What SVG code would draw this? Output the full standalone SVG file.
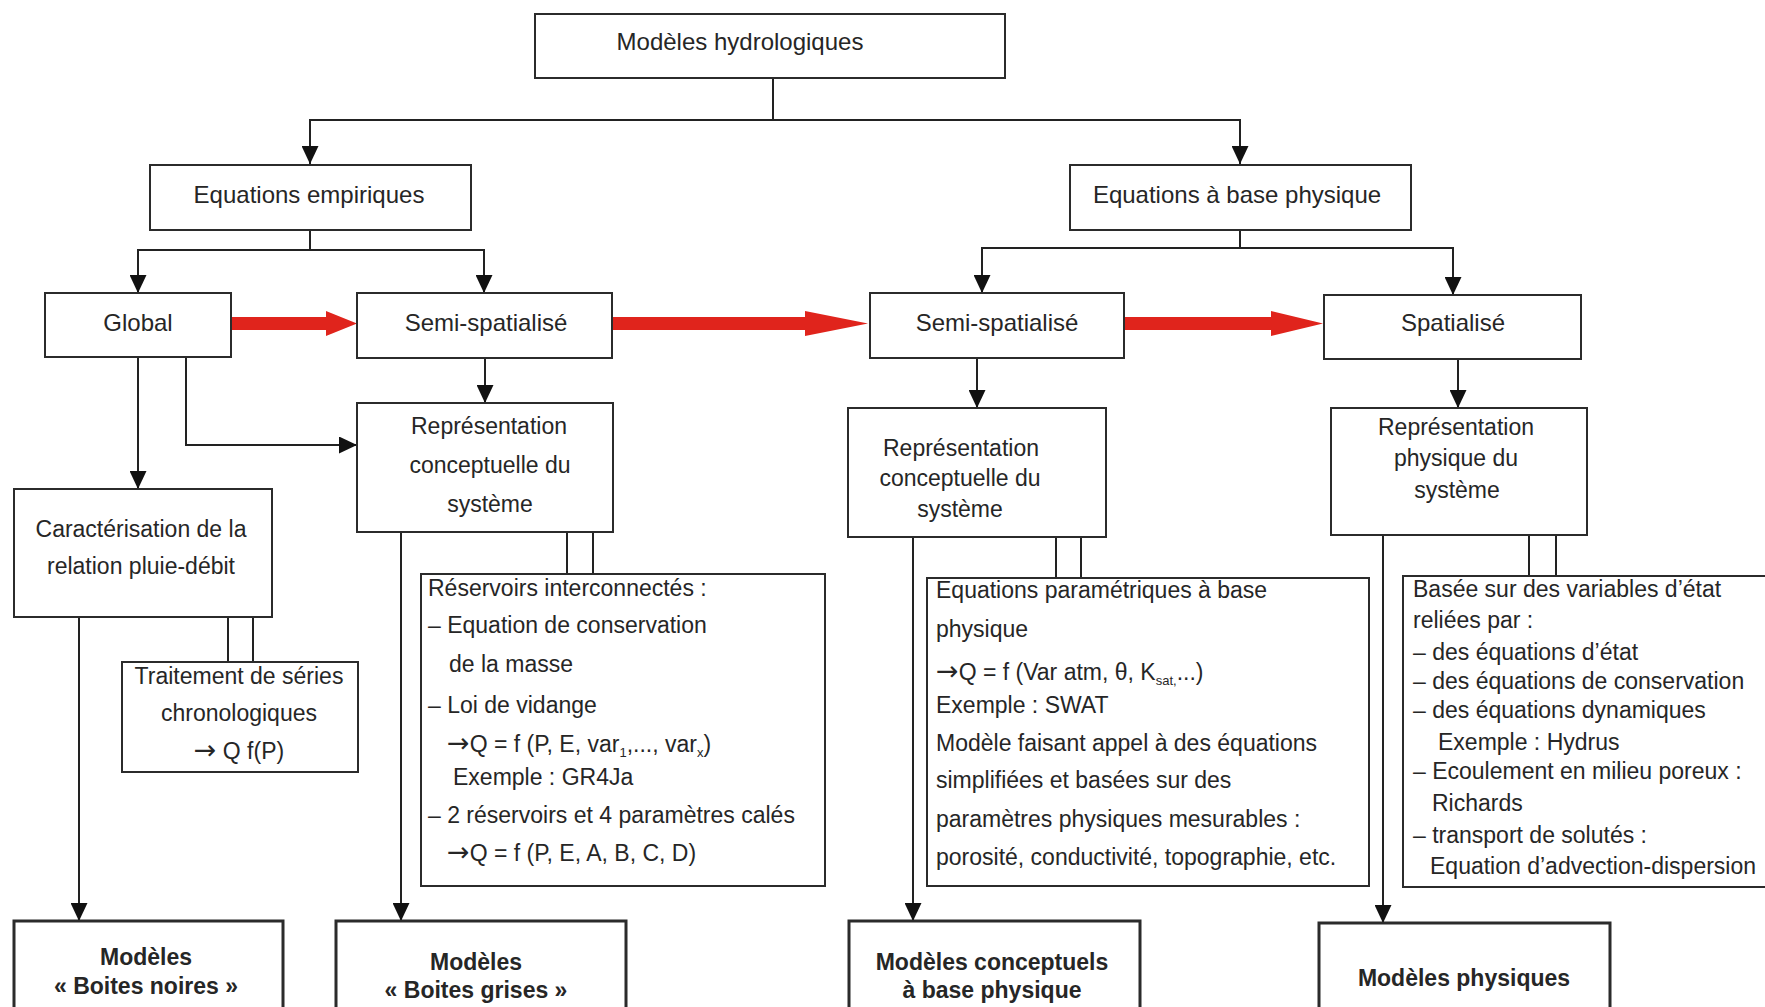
<svg xmlns="http://www.w3.org/2000/svg" width="1765" height="1007" viewBox="0 0 1765 1007">
<style>
.box{fill:#fff;stroke:#2b2b2b;stroke-width:2}
.bbox{fill:#fff;stroke:#2b2b2b;stroke-width:3}
.t{font-family:"Liberation Sans",Arial,sans-serif;font-size:23px;fill:#262626}
.h{font-size:24px}
.c{text-anchor:middle}
.b{font-weight:bold}
.ln{fill:none;stroke:#222;stroke-width:2}
.red{fill:#e0241c}
.sub{font-size:13px}
.ar{font-family:"DejaVu Sans",sans-serif;font-size:27px}
</style>
<defs>
<marker id="ah" markerUnits="userSpaceOnUse" markerWidth="18" markerHeight="17" refX="18" refY="8.5" orient="auto">
<path d="M0,0 L18,8.5 L0,17 z" fill="#111"/>
</marker>
</defs>
<rect width="1765" height="1007" fill="#fff"/>

<g id="connectors">
<path class="ln" d="M773,78 V120 H310 V164" marker-end="url(#ah)"/>
<path class="ln" d="M773,120 H1240 V164" marker-end="url(#ah)"/>
<path class="ln" d="M310,230 V250 H138 V293" marker-end="url(#ah)"/>
<path class="ln" d="M310,250 H484 V293" marker-end="url(#ah)"/>
<path class="ln" d="M1240,230 V248 H982 V293" marker-end="url(#ah)"/>
<path class="ln" d="M1240,248 H1453 V295" marker-end="url(#ah)"/>
<path class="ln" d="M138,357 V489" marker-end="url(#ah)"/>
<path class="ln" d="M186,357 V445 H357" marker-end="url(#ah)"/>
<path class="ln" d="M485,358 V403" marker-end="url(#ah)"/>
<path class="ln" d="M977,358 V408" marker-end="url(#ah)"/>
<path class="ln" d="M1458,359 V408" marker-end="url(#ah)"/>
<path class="ln" d="M79,617 V921" marker-end="url(#ah)"/>
<path class="ln" d="M228,617 V662 M253,617 V662"/>
<path class="ln" d="M401,532 V921" marker-end="url(#ah)"/>
<path class="ln" d="M567,532 V574 M593,532 V574"/>
<path class="ln" d="M913,537 V921" marker-end="url(#ah)"/>
<path class="ln" d="M1056,537 V578 M1081,537 V578"/>
<path class="ln" d="M1383,535 V923" marker-end="url(#ah)"/>
<path class="ln" d="M1529,535 V576 M1556,535 V576"/>
<polygon class="red" points="231,317 326,317 326,311 357,323.5 326,336 326,330 231,330"/>
<polygon class="red" points="612,317 805,317 805,311 868,323.5 805,336 805,330 612,330"/>
<polygon class="red" points="1124,317 1271,317 1271,311 1323,323.5 1271,336 1271,330 1124,330"/>
</g>

<g id="n_top"><rect class="box" x="535" y="14" width="470" height="64"/>
<text class="t h c" x="740" y="50">Modèles hydrologiques</text></g>
<g id="n_emp"><rect class="box" x="150" y="165" width="321" height="65"/>
<text class="t h c" x="309" y="203">Equations empiriques</text></g>
<g id="n_phys"><rect class="box" x="1070" y="165" width="341" height="65"/>
<text class="t h c" x="1237" y="203">Equations à base physique</text></g>
<g id="n_global"><rect class="box" x="45" y="293" width="186" height="64"/>
<text class="t h c" x="138" y="331">Global</text></g>
<g id="n_semi1"><rect class="box" x="357" y="293" width="255" height="65"/>
<text class="t h c" x="486" y="331">Semi-spatialisé</text></g>
<g id="n_semi2"><rect class="box" x="870" y="293" width="254" height="65"/>
<text class="t h c" x="997" y="331">Semi-spatialisé</text></g>
<g id="n_spat"><rect class="box" x="1324" y="295" width="257" height="64"/>
<text class="t h c" x="1453" y="331">Spatialisé</text></g>

<g id="n_carac"><rect class="box" x="14" y="489" width="258" height="128"/>
<text class="t c" x="141" y="537">Caractérisation de la</text>
<text class="t c" x="141" y="574">relation pluie-débit</text></g>
<g id="n_trait"><rect class="box" x="122" y="662" width="236" height="110"/>
<text class="t c" x="239" y="684">Traitement de séries</text>
<text class="t c" x="239" y="721">chronologiques</text>
<text class="t c" x="239" y="759"><tspan class="ar">→</tspan> Q f(P)</text></g>

<g id="n_repr1"><rect class="box" x="357" y="403" width="256" height="129"/>
<text class="t c" x="489" y="434">Représentation</text>
<text class="t c" x="490" y="473">conceptuelle du</text>
<text class="t c" x="490" y="512">système</text></g>
<g id="n_res"><rect class="box" x="421" y="574" width="404" height="312"/>
<text class="t" x="428" y="596">Réservoirs interconnectés :</text>
<text class="t" x="428" y="633">– Equation de conservation</text>
<text class="t" x="449" y="672">de la masse</text>
<text class="t" x="428" y="713">– Loi de vidange</text>
<text class="t" x="447" y="752"><tspan class="ar">→</tspan>Q = f (P, E, var<tspan class="sub" dy="5">1</tspan><tspan dy="-5">,..., var</tspan><tspan class="sub" dy="5">x</tspan><tspan dy="-5">)</tspan></text>
<text class="t" x="453" y="785">Exemple : GR4Ja</text>
<text class="t" x="428" y="823">– 2 réservoirs et 4 paramètres calés</text>
<text class="t" x="447" y="861"><tspan class="ar">→</tspan>Q = f (P, E, A, B, C, D)</text></g>

<g id="n_repr2"><rect class="box" x="848" y="408" width="258" height="129"/>
<text class="t c" x="961" y="456">Représentation</text>
<text class="t c" x="960" y="486">conceptuelle du</text>
<text class="t c" x="960" y="517">système</text></g>
<g id="n_eqp"><rect class="box" x="927" y="578" width="442" height="308"/>
<text class="t" x="936" y="598">Equations paramétriques à base</text>
<text class="t" x="936" y="637">physique</text>
<text class="t" x="936" y="680"><tspan class="ar">→</tspan>Q = f (Var atm, θ, K<tspan class="sub" dy="5">sat,</tspan><tspan dy="-5">...)</tspan></text>
<text class="t" x="936" y="713">Exemple : SWAT</text>
<text class="t" x="936" y="751">Modèle faisant appel à des équations</text>
<text class="t" x="936" y="788">simplifiées et basées sur des</text>
<text class="t" x="936" y="827">paramètres physiques mesurables :</text>
<text class="t" x="936" y="865">porosité, conductivité, topographie, etc.</text></g>

<g id="n_repr3"><rect class="box" x="1331" y="408" width="256" height="127"/>
<text class="t c" x="1456" y="435">Représentation</text>
<text class="t c" x="1456" y="466">physique du</text>
<text class="t c" x="1457" y="498">système</text></g>
<g id="n_basee"><rect class="box" x="1403" y="576" width="370" height="311"/>
<text class="t" x="1413" y="597">Basée sur des variables d’état</text>
<text class="t" x="1413" y="628">reliées par :</text>
<text class="t" x="1413" y="660">– des équations d’état</text>
<text class="t" x="1413" y="689">– des équations de conservation</text>
<text class="t" x="1413" y="718">– des équations dynamiques</text>
<text class="t" x="1438" y="750">Exemple : Hydrus</text>
<text class="t" x="1413" y="779">– Ecoulement en milieu poreux :</text>
<text class="t" x="1432" y="811">Richards</text>
<text class="t" x="1413" y="843">– transport de solutés :</text>
<text class="t" x="1430" y="874">Equation d’advection-dispersion</text></g>

<g id="n_noir"><rect class="bbox" x="14" y="921" width="269" height="95"/>
<text class="t b c" x="146" y="965">Modèles</text>
<text class="t b c" x="146" y="994">« Boites noires »</text></g>
<g id="n_gris"><rect class="bbox" x="336" y="921" width="290" height="95"/>
<text class="t b c" x="476" y="970">Modèles</text>
<text class="t b c" x="476" y="998">« Boites grises »</text></g>
<g id="n_conc"><rect class="bbox" x="849" y="921" width="291" height="95"/>
<text class="t b c" x="992" y="970">Modèles conceptuels</text>
<text class="t b c" x="992" y="998">à base physique</text></g>
<g id="n_physm"><rect class="bbox" x="1319" y="923" width="291" height="95"/>
<text class="t b c" x="1464" y="986">Modèles physiques</text></g>
</svg>
